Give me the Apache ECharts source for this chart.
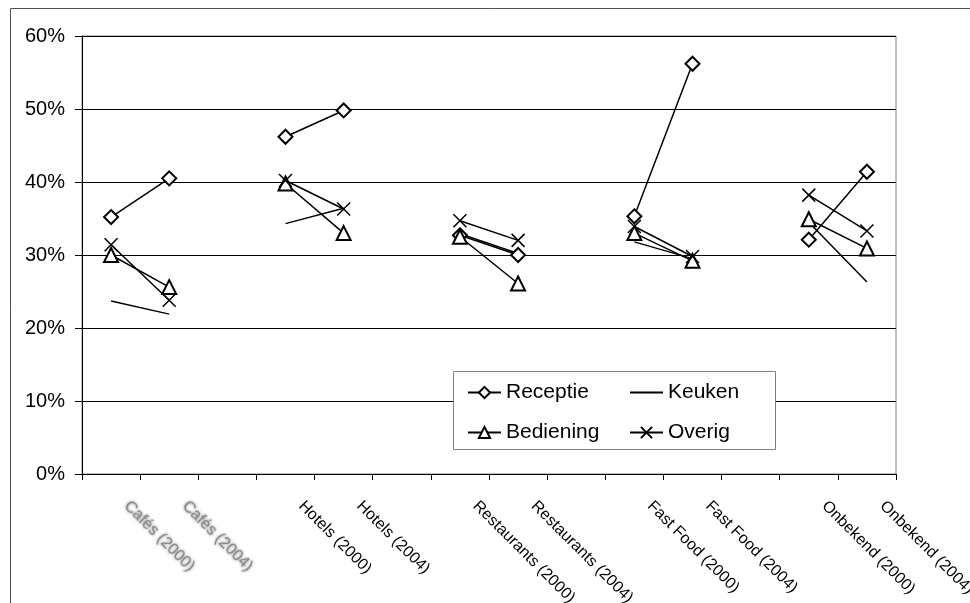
<!DOCTYPE html>
<html>
<head>
<meta charset="utf-8">
<script src="https://cdn.jsdelivr.net/npm/echarts@6/dist/echarts.min.js"></script>
<style>
  html, body { margin: 0; padding: 0; background: #fff; }
  #chart { width: 970px; height: 603px; }
</style>
</head>
<body>
<div id="chart"></div>
<script>
// Categories: two survey years per sector, with an empty slot between sectors
const categories = [
  'Cafés (2000)', 'Cafés (2004)', '',
  'Hotels (2000)', 'Hotels (2004)', '',
  'Restaurants (2000)', 'Restaurants (2004)', '',
  'Fast Food (2000)', 'Fast Food (2004)', '',
  'Onbekend (2000)', 'Onbekend (2004)'
];

// Share per department (%), null = no value in the spacer slots
const receptie  = [35.2, 40.5, null, 46.2, 49.8, null, 32.7, 30.0, null, 35.3, 56.2, null, 32.1, 41.4];
const keuken    = [23.7, 21.9, null, 34.3, 36.4, null, 32.9, 30.2, null, 31.8, 29.5, null, 34.5, 26.3];
const bediening = [30.0, 25.6, null, 39.8, 33.0, null, 32.5, 26.1, null, 33.0, 29.2, null, 34.9, 30.9];
const overig    = [31.4, 23.8, null, 40.2, 36.3, null, 34.7, 32.0, null, 33.9, 29.8, null, 38.2, 33.3];

const yTicks = { min: 0, max: 60, step: 10 };

const FONT = 'Liberation Sans, Arial, sans-serif';
const CROSS = 'path://M0,0L10,10M10,0L0,10';

function lineSeries(name, data, symbol, size) {
  return {
    name: name,
    type: 'line',
    data: data,
    connectNulls: false,
    symbol: symbol,
    symbolSize: size,
    showSymbol: symbol !== 'none',
    lineStyle: { color: '#000', width: 1.5 },
    itemStyle: { color: '#000', borderColor: '#000', borderWidth: 1.5 },
    emphasis: { disabled: true },
    animation: false,
    z: 5
  };
}

const legendText = { fontSize: 21, fontFamily: FONT, color: '#000', lineHeight: 21 };

const chart = echarts.init(document.getElementById('chart'), null, { renderer: 'canvas' });

chart.setOption({
  backgroundColor: '#fff',
  animation: false,
  textStyle: { fontFamily: FONT },
  grid: {
    left: 82, right: 74, top: 36, bottom: 129,
    containLabel: false, outerBoundsMode: 'none',
    show: true, borderColor: '#808080', borderWidth: 1, backgroundColor: 'transparent'
  },
  graphic: [
    {
      type: 'rect', z: 0, silent: true,
      shape: { x: 10.5, y: 8.5, width: 1000, height: 700 },
      style: { fill: 'none', stroke: '#505050', lineWidth: 1 }
    },
    {
      type: 'rect', z: 3, silent: true,
      shape: { x: 453.5, y: 371.5, width: 322, height: 78 },
      style: { fill: '#fff', stroke: '#808080', lineWidth: 1 }
    }
  ],
  legend: [
    {
      data: ['Receptie', 'Bediening'],
      orient: 'vertical', left: 467, top: 382, z: 6, padding: 0,
      itemWidth: 33, itemHeight: 14, itemGap: 19,
      textStyle: legendText,
      selectedMode: false
    },
    {
      data: [
        { name: 'Keuken', itemStyle: { color: 'rgba(0,0,0,0)', borderColor: 'rgba(0,0,0,0)', borderWidth: 0 } },
        'Overig'
      ],
      orient: 'vertical', left: 629, top: 382, z: 6, padding: 0,
      itemWidth: 33, itemHeight: 14, itemGap: 19,
      textStyle: legendText,
      selectedMode: false
    }
  ],
  xAxis: {
    type: 'category',
    data: categories,
    boundaryGap: true,
    axisLine: { lineStyle: { color: '#000', width: 1 } },
    axisTick: { show: true, interval: 0, length: 6, lineStyle: { color: '#000' } },
    axisLabel: {
      interval: 0, rotate: -45, margin: 14,
      fontSize: 16, fontFamily: FONT, color: '#000',
      padding: [0, 0, 0, 22],
      hideOverlap: false,
      formatter: function (v) {
        return v.indexOf('Caf') === 0 ? '{soft|' + v + '}' : v;
      },
      rich: {
        soft: {
          fontSize: 16, fontFamily: FONT, color: '#8a8a8a',
          textShadowColor: '#666', textShadowBlur: 3
        }
      }
    },
    splitLine: { show: false }
  },
  yAxis: {
    type: 'value',
    min: yTicks.min, max: yTicks.max, interval: yTicks.step,
    axisLine: { show: true, lineStyle: { color: '#000', width: 1 } },
    axisTick: { show: true, length: 7, lineStyle: { color: '#000' } },
    axisLabel: {
      margin: 17, fontSize: 20, fontFamily: FONT, color: '#000',
      formatter: '{value}%'
    },
    splitLine: { show: true, lineStyle: { color: '#000', width: 1 } }
  },
  series: [
    lineSeries('Receptie', receptie, 'emptyDiamond', 14),
    lineSeries('Keuken', keuken, 'none', 0),
    lineSeries('Bediening', bediening, 'emptyTriangle', 14),
    lineSeries('Overig', overig, CROSS, 13)
  ]
});
</script>
</body>
</html>
